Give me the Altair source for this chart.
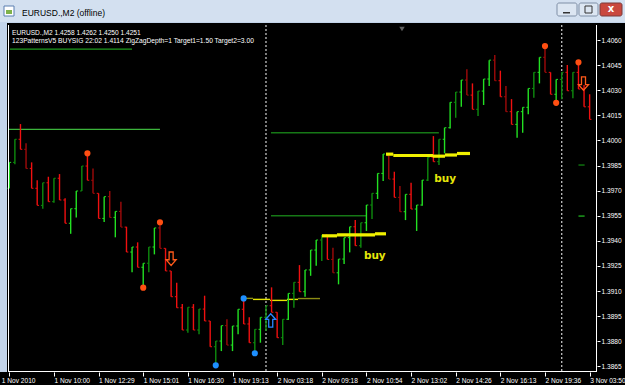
import json
import altair as alt
import pandas as pd

# ---------------- data ----------------
bar_high = [1.39869, 1.40007, 1.40098, 1.39983, 1.39869, 1.39762, 1.39747, 1.39783, 1.39774, 1.39799,
            1.39654, 1.39592, 1.39698, 1.39847, 1.39923, 1.39833, 1.39684, 1.39664, 1.39698, 1.39576,
            1.39634, 1.39484, 1.39363, 1.39391, 1.39266, 1.39363, 1.39477, 1.39511, 1.39355, 1.39220,
            1.39150, 1.39022, 1.39003, 1.39022, 1.38992, 1.39072, 1.38921, 1.38801, 1.38893, 1.38931,
            1.38891, 1.38991, 1.39056, 1.38943, 1.38871, 1.38943, 1.39012, 1.39122, 1.38973, 1.38931,
            1.39086, 1.39152, 1.39255, 1.39226, 1.39345, 1.39405, 1.39435, 1.39435, 1.39359, 1.39291,
            1.39419, 1.39484, 1.39524, 1.39508, 1.39614, 1.39684, 1.39803, 1.39919, 1.39909, 1.39813,
            1.39728, 1.39678, 1.39747, 1.39614, 1.39763, 1.39899, 1.40026, 1.40007, 1.40076, 1.40228,
            1.40289, 1.40361, 1.40425, 1.40341, 1.40295, 1.40367, 1.40480, 1.40510, 1.40417, 1.40325,
            1.40247, 1.40172, 1.40198, 1.40311, 1.40407, 1.40497, 1.40555, 1.40407, 1.40365, 1.40407,
            1.40451, 1.40407, 1.40467, 1.40331, 1.40276]
bar_low = [1.39714, 1.39857, 1.39947, 1.39833, 1.39714, 1.39612, 1.39592, 1.39634, 1.39628, 1.39644,
           1.39505, 1.39442, 1.39540, 1.39698, 1.39762, 1.39684, 1.39534, 1.39512, 1.39540, 1.39421,
           1.39482, 1.39333, 1.39212, 1.39242, 1.39120, 1.39212, 1.39319, 1.39355, 1.39220, 1.39066,
           1.39000, 1.38867, 1.38851, 1.38867, 1.38841, 1.38921, 1.38767, 1.38656, 1.38741, 1.38777,
           1.38741, 1.38841, 1.38903, 1.38791, 1.38728, 1.38791, 1.38861, 1.38973, 1.38821, 1.38777,
           1.38927, 1.39000, 1.39096, 1.39066, 1.39191, 1.39251, 1.39279, 1.39289, 1.39209, 1.39140,
           1.39261, 1.39331, 1.39371, 1.39359, 1.39459, 1.39530, 1.39650, 1.39757, 1.39769, 1.39660,
           1.39574, 1.39524, 1.39590, 1.39459, 1.39610, 1.39757, 1.39873, 1.39853, 1.39923, 1.40072,
           1.40136, 1.40201, 1.40271, 1.40186, 1.40146, 1.40212, 1.40325, 1.40357, 1.40261, 1.40172,
           1.40096, 1.40016, 1.40046, 1.40156, 1.40255, 1.40341, 1.40407, 1.40276, 1.40225, 1.40246,
           1.40297, 1.40252, 1.40307, 1.40201, 1.40126]
bar_open = [1.39714, 1.39869, 1.40007, 1.39947, 1.39833, 1.39714, 1.39612, 1.39747, 1.39634, 1.39774,
            1.39644, 1.39505, 1.39592, 1.39698, 1.39847, 1.39762, 1.39684, 1.39534, 1.39664, 1.39540,
            1.39576, 1.39482, 1.39333, 1.39363, 1.39242, 1.39266, 1.39363, 1.39477, 1.39355, 1.39220,
            1.39066, 1.39000, 1.38867, 1.39003, 1.38867, 1.38992, 1.38921, 1.38767, 1.38801, 1.38893,
            1.38777, 1.38891, 1.38991, 1.38903, 1.38791, 1.38871, 1.38943, 1.39012, 1.38973, 1.38821,
            1.38931, 1.39086, 1.39152, 1.39096, 1.39226, 1.39345, 1.39405, 1.39435, 1.39289, 1.39209,
            1.39291, 1.39419, 1.39484, 1.39371, 1.39508, 1.39614, 1.39684, 1.39803, 1.39909, 1.39769,
            1.39660, 1.39574, 1.39678, 1.39590, 1.39614, 1.39763, 1.39899, 1.39873, 1.40007, 1.40076,
            1.40228, 1.40289, 1.40361, 1.40271, 1.40186, 1.40295, 1.40367, 1.40480, 1.40357, 1.40261,
            1.40172, 1.40096, 1.40172, 1.40198, 1.40311, 1.40407, 1.40497, 1.40407, 1.40276, 1.40365,
            1.40407, 1.40297, 1.40407, 1.40307, 1.40201]
bar_close = [1.39869, 1.40007, 1.39947, 1.39833, 1.39714, 1.39612, 1.39747, 1.39634, 1.39774, 1.39644,
             1.39505, 1.39592, 1.39698, 1.39847, 1.39762, 1.39684, 1.39534, 1.39664, 1.39540, 1.39576,
             1.39482, 1.39333, 1.39363, 1.39242, 1.39266, 1.39363, 1.39477, 1.39355, 1.39220, 1.39066,
             1.39000, 1.38867, 1.39003, 1.38867, 1.38992, 1.38921, 1.38767, 1.38801, 1.38893, 1.38777,
             1.38891, 1.38991, 1.38903, 1.38791, 1.38871, 1.38943, 1.39012, 1.38973, 1.38821, 1.38931,
             1.39086, 1.39152, 1.39096, 1.39226, 1.39345, 1.39405, 1.39435, 1.39289, 1.39209, 1.39291,
             1.39419, 1.39484, 1.39371, 1.39508, 1.39614, 1.39684, 1.39803, 1.39919, 1.39769, 1.39660,
             1.39574, 1.39678, 1.39590, 1.39614, 1.39763, 1.39899, 1.39873, 1.40007, 1.40076, 1.40228,
             1.40289, 1.40361, 1.40271, 1.40186, 1.40295, 1.40367, 1.40480, 1.40357, 1.40261, 1.40172,
             1.40096, 1.40172, 1.40198, 1.40311, 1.40407, 1.40497, 1.40407, 1.40276, 1.40365, 1.40407,
             1.40297, 1.40407, 1.40307, 1.40201, 1.40126]
# G = up bar (bright), g = up bar (dark), R = down bar (bright), r = down bar (dark)
bar_kind = list("GgRrRRgRgR" "RGGgRrRGrG" "rRGRGgGrRR" "RRgRgRRgGr" "GGRRgGgRRg"
                "GgRGGGgRrG" "GGRgGgGGrR" "rGRGGgRgGG" "gGrRgGGrRr" "RGGGgGrRGg" "RgRRR")

# zigzag points
zz_up_bar = [15, 28, 97, 103]
zz_up_price = [1.39923, 1.39511, 1.40564, 1.40467]
zz_dn_bar = [25, 99]
zz_dn_price = [1.39120, 1.40225]
zz_blue_bar = [38, 43, 45]
zz_blue_price = [1.38656, 1.39056, 1.38728]

# signal arrows
sell_bar = [30, 103.9]
sell_price = [1.39293, 1.40340]
buy_bar = [47.85]
buy_price = [1.38924]

# "buy" labels
buy_text_bar = [66.5, 79.1]
buy_text_price = [1.39309, 1.39769]
buy_text = ["buy", "buy"]

# horizontal level lines (bar from, bar to, price)
lvl_top = dict(b0=[1.13], b1=[22.99], p=[1.40546])
lvl_mid = dict(b0=[0.95], b1=[28.0], p=[1.40066])
lvl_dark = dict(b0=[47.9, 47.9], b1=[77.98, 64.92], p=[1.40046, 1.39550])
lvl_mark_dark = dict(b0=[103.0], b1=[104.1], p=[1.39853])
lvl_mark_light = dict(b0=[103.0], b1=[104.1], p=[1.39548])

# yellow pattern lines
yel_thin_olive = dict(b0=[43.06, 52.74], b1=[44.67, 56.68], p=[1.39056, 1.39055])
yel_thin = dict(b0=[44.67, 47.72, 50.77], b1=[47.72, 50.77, 52.74], p=[1.39050, 1.39044, 1.39050])
yel_thick = dict(b0=[57.04, 59.73, 66.54, 68.51, 69.82, 76.93, 79.08, 81.23],
                 b1=[59.73, 66.54, 68.51, 69.82, 76.93, 79.08, 81.23, 83.56],
                 p=[1.39430, 1.39435, 1.39442, 1.39918, 1.39910, 1.39906, 1.39913, 1.39922])

separator_bar = [47, 100]

y_ticks = [1.4060, 1.4045, 1.4030, 1.4015, 1.4000, 1.3985, 1.3970, 1.3955,
           1.3940, 1.3925, 1.3910, 1.3895, 1.3880, 1.3865]
x_label_bar = [1, 9, 17, 25, 33, 41, 49, 57, 65, 73, 81, 89, 97, 105]
x_labels = ["1 Nov 2010", "1 Nov 10:00", "1 Nov 12:29", "1 Nov 15:01", "1 Nov 16:30",
            "1 Nov 19:13", "2 Nov 03:18", "2 Nov 09:18", "2 Nov 10:54", "2 Nov 13:02",
            "2 Nov 14:26", "2 Nov 16:13", "2 Nov 19:36", "3 Nov 03:50"]

header1 = "EURUSD.,M2  1.4258 1.4262 1.4250 1.4251"
header2 = "123PatternsV5   BUYSIG   22:02   1.4114   ZigZagDepth=1   Target1=1.50   Target2=3.00"
window_title = "EURUSD.,M2 (offline)"

# ---------------- chart ----------------
W, H = 589, 347
XS = alt.Scale(domain=[0.767, 106.32], nice=False, zero=False)
YS = alt.Scale(domain=[1.38616, 1.40690], nice=False, zero=False)
FONT = "Liberation Sans"

bars = pd.DataFrame({"i": range(1, len(bar_high) + 1), "high": bar_high, "low": bar_low,
                     "open": bar_open, "close": bar_close, "kind": bar_kind})
kind_color = alt.Color("kind:N", scale=alt.Scale(domain=["G", "g", "R", "r"],
                       range=["#22e022", "#0e8c0e", "#f01010", "#a00a0a"]), legend=None)

one = pd.DataFrame({"k": [0]})

def seg_layer(d, color, width, opacity=1.0):
    df = pd.DataFrame(d)
    return alt.Chart(df).mark_rule(color=color, strokeWidth=width, opacity=opacity).encode(
        x=alt.X("b0:Q", scale=XS, axis=None), x2="b1:Q", y=alt.Y("p:Q", scale=YS, axis=None))

def box(x0, x1, y0, y1, fill, stroke=None, radius=0):
    kw = dict(color=fill, cornerRadius=radius)
    if stroke:
        kw["stroke"] = stroke
        kw["strokeWidth"] = 1
    return alt.Chart(one).mark_rect(**kw).encode(
        x=alt.value(x0), x2=alt.value(x1), y=alt.value(y0), y2=alt.value(y1))

# window chrome (decoration); coordinates relative to plot origin (8, 25)
frame_bg = box(-1, 617, -2, 362, "#000000")
axis_strip = box(-8, 617, H, 362, "#000000")
titlebar = box(-8, 617, -25, -3, "#d3e0f0")
icon_a = box(-4, 6, -19, -9, "#ffffff", "#5b7fb0")
icon_b = box(-2, 4, -15, -11, "#7fb24a")
title_txt = alt.Chart(one).mark_text(align="left", baseline="middle", fontSize=8.5, font=FONT,
                                     color="#000000", text=window_title).encode(
    x=alt.value(14), y=alt.value(-12))
btn_min = box(549, 569, -22, -9, "#dce6f2", "#7f8fa6", 2)
btn_max = box(571, 590, -22, -9, "#dce6f2", "#7f8fa6", 2)
btn_close = box(592, 614, -22, -9, "#c9483e", "#7a3a3a", 2)
glyph_min = box(555, 562, -13, -11.5, "#333333")
glyph_max = box(577, 584, -19, -12, "#dce6f2", "#333333")
glyph_close = alt.Chart(one).mark_text(text="x", fontSize=10, fontWeight="bold", color="#ffffff",
                                       font="DejaVu Sans", align="center", baseline="middle").encode(
    x=alt.value(603), y=alt.value(-16))

hdr1 = alt.Chart(one).mark_text(align="left", baseline="middle", fontSize=6.6, font=FONT,
                                color="#ffffff", text=header1).encode(x=alt.value(4), y=alt.value(8))
hdr2 = alt.Chart(one).mark_text(align="left", baseline="middle", fontSize=6.7, font=FONT,
                                color="#ffffff", text=header2).encode(x=alt.value(4), y=alt.value(16))

frame_left = alt.Chart(one).mark_rule(color="#ffffff", strokeWidth=1).encode(
    x=alt.value(0.5), y=alt.value(0), y2=alt.value(H))
frame_right = alt.Chart(one).mark_rule(color="#ffffff", strokeWidth=1).encode(
    x=alt.value(W - 0.5), y=alt.value(0), y2=alt.value(H))
frame_bottom = alt.Chart(one).mark_rule(color="#ffffff", strokeWidth=1).encode(
    x=alt.value(0), x2=alt.value(W), y=alt.value(H - 0.5))
shift_marker = alt.Chart(one).mark_point(shape="triangle-down", filled=True, color="#8a8a8a",
                                         size=30).encode(x=alt.value(394), y=alt.value(4))

# axes carrier
label_expr = f"{json.dumps(x_labels)}[indexof({json.dumps(x_label_bar)}, datum.value)]"
axes_layer = alt.Chart(bars).mark_point(opacity=0).encode(
    x=alt.X("i:Q", scale=XS, axis=alt.Axis(values=x_label_bar, labelExpr=label_expr,
            labelAlign="left", labelBaseline="top",
            labelOffset={"condition": {"test": "datum.value == 1", "value": -8}, "value": 0},
            labelPadding=1,
            labelColor="#ffffff", labelFontSize=6.6, labelFont=FONT, tickColor="#ffffff",
            tickSize=4, domain=False, grid=False, title=None, labelOverlap=False,
            labelBound=False, labelFlush=False, zindex=5)),
    y=alt.Y("high:Q", scale=YS, axis=alt.Axis(orient="right", values=y_ticks, format=".4f",
            labelColor="#ffffff", labelFontSize=6.6, labelFont=FONT, tickColor="#ffffff",
            tickSize=3, labelPadding=1, domain=False, grid=False, title=None,
            labelOverlap=False, labelFlush=False, zindex=5)))

separators = alt.Chart(pd.DataFrame({"b": separator_bar})).mark_rule(
    color="#d0d0d0", strokeDash=[2, 2], strokeWidth=1.2).encode(
    x=alt.X("b:Q", scale=XS, axis=None), y=alt.value(0), y2=alt.value(H))

bar_rules = alt.Chart(bars).mark_rule(strokeWidth=1.4).encode(
    x=alt.X("i:Q", scale=XS, axis=None), y=alt.Y("high:Q", scale=YS, axis=None), y2="low:Q",
    color=kind_color)
open_ticks = alt.Chart(bars).transform_calculate(xl="datum.i - 0.33").mark_rule(strokeWidth=1).encode(
    x=alt.X("xl:Q", scale=XS, axis=None), x2="i:Q", y=alt.Y("open:Q", scale=YS, axis=None),
    color=kind_color)
close_ticks = alt.Chart(bars).transform_calculate(xr="datum.i + 0.33").mark_rule(strokeWidth=1).encode(
    x=alt.X("i:Q", scale=XS, axis=None), x2="xr:Q", y=alt.Y("close:Q", scale=YS, axis=None),
    color=kind_color)

def dots(b, p, color):
    return alt.Chart(pd.DataFrame({"b": b, "p": p})).mark_circle(color=color, size=38, opacity=1).encode(
        x=alt.X("b:Q", scale=XS, axis=None), y=alt.Y("p:Q", scale=YS, axis=None))

down_path = "M-0.3,-1L0.3,-1L0.3,0.15L0.75,0.15L0,1L-0.75,0.15L-0.3,0.15Z"
up_path = "M-0.3,1L0.3,1L0.3,-0.15L0.75,-0.15L0,-1L-0.75,-0.15L-0.3,-0.15Z"
sell_arrows = alt.Chart(pd.DataFrame({"b": sell_bar, "p": sell_price})).mark_point(
    shape=down_path, filled=False, stroke="#ff5a1a", strokeWidth=1.3, size=180, opacity=1).encode(
    x=alt.X("b:Q", scale=XS, axis=None), y=alt.Y("p:Q", scale=YS, axis=None))
buy_arrows = alt.Chart(pd.DataFrame({"b": buy_bar, "p": buy_price})).mark_point(
    shape=up_path, filled=False, stroke="#2a86ff", strokeWidth=1.3, size=180, opacity=1).encode(
    x=alt.X("b:Q", scale=XS, axis=None), y=alt.Y("p:Q", scale=YS, axis=None))

buy_labels = alt.Chart(pd.DataFrame({"b": buy_text_bar, "p": buy_text_price, "t": buy_text})).mark_text(
    color="#e6e60a", fontSize=10.5, fontWeight="bold", font="DejaVu Sans", align="center",
    baseline="middle").encode(
    x=alt.X("b:Q", scale=XS, axis=None), y=alt.Y("p:Q", scale=YS, axis=None), text="t:N")

chart = alt.layer(
    titlebar, icon_a, icon_b, title_txt, btn_min, btn_max, btn_close,
    glyph_min, glyph_max, glyph_close,
    frame_bg, axis_strip, axes_layer, separators,
    seg_layer(lvl_top, "#1f9a1f", 1.3),
    seg_layer(lvl_mid, "#3cb43c", 1.3),
    seg_layer(lvl_dark, "#167816", 1.3),
    seg_layer(lvl_mark_dark, "#0f700f", 1.5),
    seg_layer(lvl_mark_light, "#22c022", 1.2),
    seg_layer(yel_thin_olive, "#8c8c14", 1.4),
    seg_layer(yel_thin, "#e6e600", 1.4),
    bar_rules, open_ticks, close_ticks,
    seg_layer(yel_thick, "#f0f000", 3.2),
    dots(zz_up_bar, zz_up_price, "#ff4f12"),
    dots(zz_dn_bar, zz_dn_price, "#ff4f12"),
    dots(zz_blue_bar, zz_blue_price, "#1e8fff"),
    sell_arrows, buy_arrows, buy_labels, hdr1, hdr2,
    frame_left, frame_right, frame_bottom, shift_marker,
).resolve_axis(x="independent", y="independent").properties(
    width=W, height=H,
    padding={"left": 8, "top": 25, "right": 28, "bottom": 13},
    autosize=alt.AutoSizeParams(type="none"),
).configure(background="#c3d4ea").configure_view(stroke=None)

chart.save("out.html", embed_options={"renderer": "svg", "actions": False})
